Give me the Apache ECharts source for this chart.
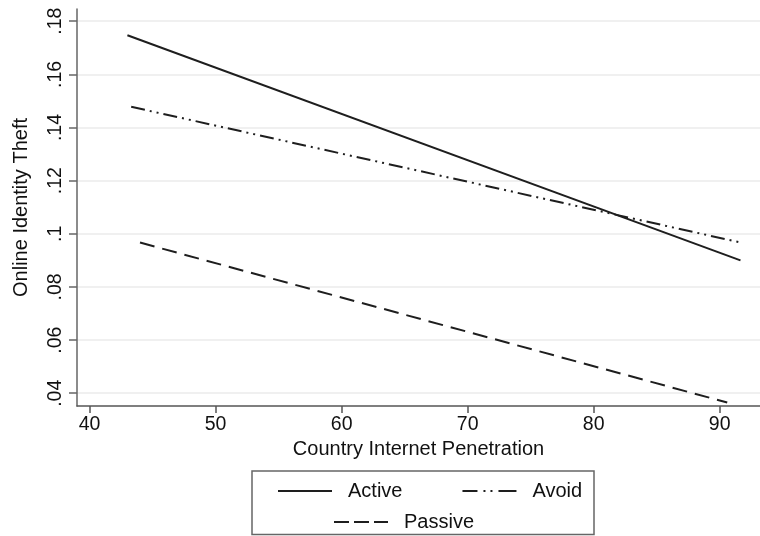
<!DOCTYPE html>
<html>
<head>
<meta charset="utf-8">
<script src="https://cdn.jsdelivr.net/npm/echarts@6/dist/echarts.min.js"></script>
<style>
	html, body { margin: 0; padding: 0; background: #fff; }
	#chart { width: 760px; height: 536px; }
</style>
</head>
<body>
<div id="chart"></div>
<script>
// fitted lines, two end points each (x = internet penetration, y = identity theft)
const activeX = [43.0, 91.65]
const activeY = [0.1747, 0.0900]
const avoidX = [43.3, 91.5]
const avoidY = [0.1478, 0.0969]
const passiveX = [44.0, 90.6]
const passiveY = [0.0967, 0.0365]

const xTicks = [40, 50, 60, 70, 80, 90]
const yTicks = [0.04, 0.06, 0.08, 0.10, 0.12, 0.14, 0.16, 0.18]

const FONT = 'Liberation Sans'
const INK = '#1e1e1e'

pairs = (xs, ys) => xs.map((x, i) => [x, ys[i]])

// Stata style: .18, .1, .04
fmtY = (v) => v.toFixed(2).replace(/0+$/, '').replace(/^0\./, '.')

chart = () => {
	var myChart = echarts.init(document.getElementById('chart'), null, { renderer: 'canvas' })

	const lineSeries = (name, xs, ys, dash) => ({
		name: name,
		type: 'line',
		data: pairs(xs, ys),
		symbol: 'none',
		showSymbol: false,
		silent: true,
		animation: false,
		lineStyle: { color: INK, width: 2, type: dash },
		itemStyle: { color: INK },
	})

	const legendText = {
		fontFamily: FONT,
		fontSize: 20,
		color: '#111',
		padding: [0, 0, 0, 11],
	}

	// hide the marker that line legends draw in the middle of the icon
	const noMarker = { opacity: 0 }

	const option = {
		animation: false,
		backgroundColor: '#fff',
		grid: { left: 77, right: 0, top: 9, bottom: 130 },
		xAxis: {
			type: 'value',
			min: 39,
			max: 93.2,
			name: 'Country Internet Penetration',
			nameLocation: 'middle',
			nameGap: 31,
			nameTextStyle: { fontFamily: FONT, fontSize: 20, color: '#111' },
			axisLine: { show: true, lineStyle: { color: '#555', width: 1.5 } },
			axisTick: { show: true, length: 7, customValues: xTicks, lineStyle: { color: '#555', width: 1.5 } },
			axisLabel: { customValues: xTicks, margin: 9, fontFamily: FONT, fontSize: 19.5, color: '#111' },
			splitLine: { show: false },
		},
		yAxis: {
			type: 'value',
			min: 0.0352,
			max: 0.1846,
			name: 'Online Identity Theft',
			nameLocation: 'middle',
			nameGap: 46,
			nameTextStyle: { fontFamily: FONT, fontSize: 20, color: '#111' },
			axisLine: { show: true, lineStyle: { color: '#666', width: 1.5 } },
			axisTick: { show: true, length: 8, customValues: yTicks, lineStyle: { color: '#666', width: 1.5 } },
			axisLabel: {
				customValues: yTicks,
				rotate: 90,
				margin: 11,
				fontFamily: FONT,
				fontSize: 19.5,
				color: '#111',
				formatter: fmtY,
			},
			splitLine: { show: true, lineStyle: { color: '#ebebeb', width: 1.5 } },
		},
		legend: [
			{
				data: [
					{ name: 'Active' },
					{ name: 'Avoid', lineStyle: { type: [15, 6, 2, 5, 2, 6, 20, 10] } },
				],
				left: 277,
				top: 481,
				padding: 0,
				itemWidth: 54,
				itemHeight: 20,
				itemGap: 59,
				itemStyle: noMarker,
				textStyle: legendText,
				selectedMode: false,
			},
			{
				data: [{ name: 'Passive', lineStyle: { type: [15, 5] } }],
				left: 333,
				top: 512,
				padding: 0,
				itemWidth: 54,
				itemHeight: 20,
				itemStyle: noMarker,
				textStyle: legendText,
				selectedMode: false,
			},
		],
		graphic: [
			{
				type: 'rect',
				shape: { x: 252, y: 471, width: 342, height: 63.5 },
				style: { fill: 'none', stroke: '#666', lineWidth: 1.5 },
				silent: true,
			},
		],
		series: [
			lineSeries('Active', activeX, activeY, 'solid'),
			lineSeries('Avoid', avoidX, avoidY, [14, 5, 2, 5, 2, 5]),
			lineSeries('Passive', passiveX, passiveY, [15, 8]),
		],
	}

	myChart.setOption(option)
}

chart()
</script>
</body>
</html>
